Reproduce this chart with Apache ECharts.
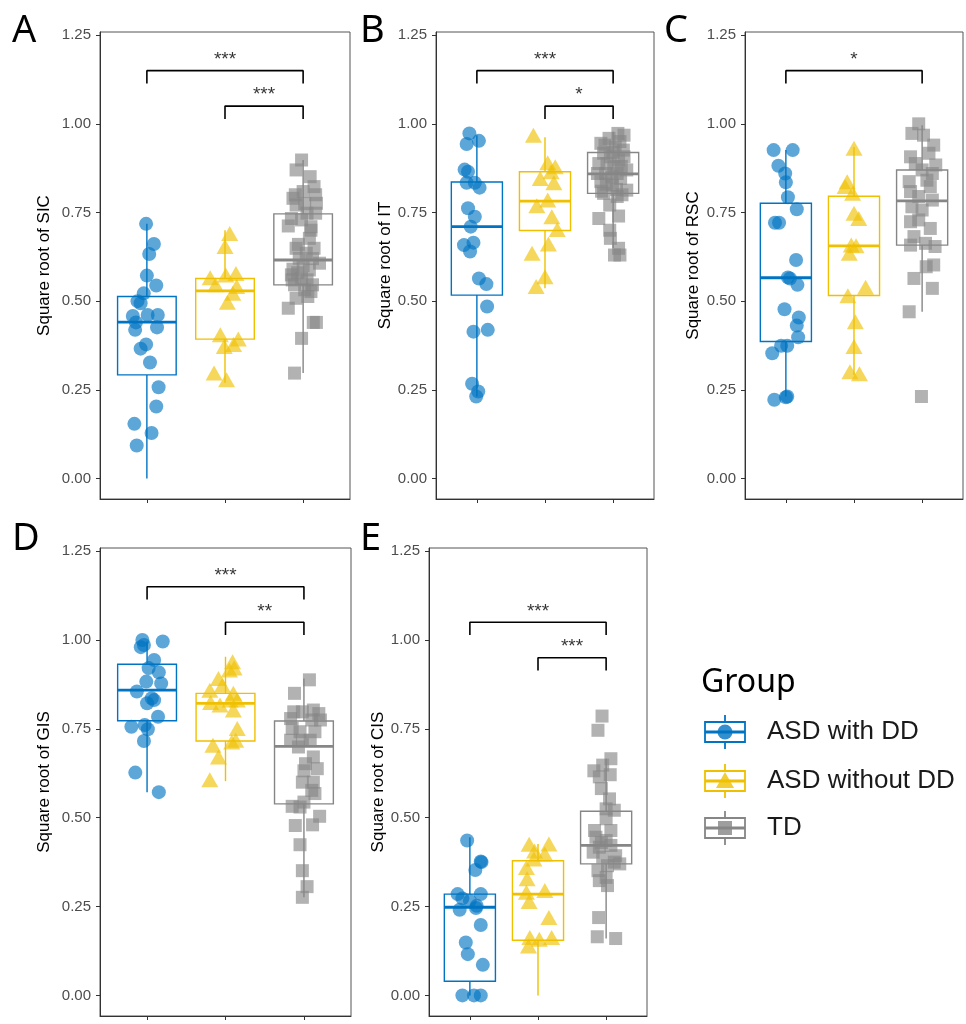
<!DOCTYPE html>
<html>
<head>
<meta charset="utf-8">
<title>Square root scores by group</title>
<script src="https://cdn.jsdelivr.net/npm/echarts@6/dist/echarts.min.js"></script>
<style>
  html, body { margin: 0; padding: 0; background: #fff; }
  #chart { width: 966px; height: 1024px; }
</style>
</head>
<body>
<div id="chart"></div>
<script>
const groups = ['ASD with DD', 'ASD without DD', 'TD'];
const colors = ['#0073C2', '#EFC000', '#868686'];
const pointColors = ['rgba(0,115,194,0.8)', 'rgba(239,192,0,0.8)', 'rgba(134,134,134,0.8)'];
const yTicks = [0, 0.25, 0.5, 0.75, 1, 1.25];

// jittered points: [x position, value]
const sicWithDD = [[0.99,0.718],[1.09,0.661],[1.03,0.633],[1.0,0.572],[1.12,0.544],[0.96,0.522],[0.88,0.50],[0.92,0.494],[0.82,0.458],[1.01,0.461],[1.14,0.461],[0.86,0.44],[0.85,0.419],[1.13,0.426],[0.99,0.378],[0.92,0.366],[1.04,0.327],[1.15,0.257],[1.12,0.203],[0.84,0.154],[1.06,0.128],[0.87,0.093]];
const sicWithoutDD = [[2.06,0.691],[2.0,0.654],[1.81,0.566],[2.14,0.578],[2.01,0.574],[1.88,0.546],[2.15,0.541],[2.10,0.522],[2.03,0.497],[1.94,0.405],[2.17,0.393],[2.11,0.378],[1.99,0.372],[1.86,0.297],[2.02,0.278]];
const sicTD = [[2.98,0.898],[2.91,0.870],[3.09,0.851],[3.14,0.823],[3.0,0.809],[2.87,0.790],[3.17,0.776],[2.91,0.771],[3.05,0.748],[3.16,0.748],[2.85,0.733],[2.98,0.729],[2.81,0.712],[3.10,0.70],[3.08,0.677],[2.91,0.649],[3.14,0.649],[3.04,0.635],[2.95,0.621],[3.21,0.607],[2.87,0.59],[3.08,0.588],[2.85,0.574],[2.98,0.564],[2.89,0.546],[3.12,0.546],[3.02,0.532],[3.10,0.527],[2.91,0.508],[3.06,0.513],[2.81,0.48],[3.17,0.44],[3.13,0.44],[2.98,0.395],[2.89,0.297],[3.12,0.62],[2.94,0.66],[3.0,0.60],[2.86,0.56],[3.05,0.56],[2.93,0.58],[3.10,0.71],[2.90,0.80],[3.02,0.775],[3.16,0.80]];

const itWithDD = [[0.89,0.973],[1.03,0.952],[0.85,0.943],[0.82,0.871],[0.87,0.865],[0.85,0.834],[0.97,0.834],[1.04,0.82],[0.87,0.762],[0.97,0.738],[0.91,0.71],[0.81,0.658],[0.95,0.665],[0.90,0.64],[1.03,0.564],[1.14,0.548],[1.15,0.485],[0.95,0.414],[1.16,0.419],[0.93,0.267],[1.02,0.245],[0.99,0.231]];
const itWithoutDD = [[1.83,0.968],[2.04,0.89],[2.15,0.879],[2.09,0.865],[1.93,0.846],[2.13,0.834],[2.04,0.785],[1.88,0.769],[2.10,0.738],[2.18,0.702],[2.05,0.661],[1.81,0.635],[2.0,0.569],[1.87,0.541]];
const itTD = [[3.07,0.973],[3.16,0.968],[2.94,0.959],[2.82,0.945],[3.03,0.935],[3.15,0.926],[2.86,0.917],[2.96,0.907],[3.08,0.898],[2.79,0.888],[3.01,0.879],[3.20,0.87],[2.89,0.86],[3.11,0.846],[2.82,0.837],[2.99,0.827],[3.20,0.813],[2.86,0.804],[3.06,0.795],[3.13,0.80],[2.95,0.771],[2.79,0.733],[3.08,0.74],[2.95,0.70],[2.96,0.677],[3.08,0.649],[3.02,0.63],[3.10,0.63],[2.77,0.86],[2.91,0.888],[3.06,0.86],[3.16,0.907],[2.83,0.81],[3.0,0.92],[2.90,0.83],[3.12,0.88],[2.98,0.85],[3.10,0.95],[2.88,0.94],[3.05,0.815]];

const rscWithDD = [[0.82,0.926],[1.10,0.926],[0.89,0.882],[0.99,0.86],[1.0,0.835],[1.03,0.793],[1.16,0.759],[0.84,0.721],[0.90,0.721],[1.15,0.616],[1.03,0.567],[1.06,0.564],[1.17,0.546],[0.98,0.477],[1.19,0.454],[1.16,0.431],[1.18,0.398],[0.93,0.374],[1.02,0.374],[0.80,0.353],[0.83,0.222],[1.0,0.229],[1.02,0.231]];
const rscWithoutDD = [[2.0,0.931],[1.90,0.837],[1.87,0.823],[1.98,0.804],[2.0,0.748],[2.07,0.733],[1.96,0.658],[2.03,0.656],[1.93,0.635],[2.17,0.539],[1.91,0.515],[2.02,0.442],[2.0,0.372],[1.94,0.301],[2.08,0.295]];
const rscTD = [[2.95,1.0],[2.85,0.973],[3.02,0.968],[3.17,0.94],[3.10,0.917],[2.83,0.907],[2.90,0.888],[3.20,0.884],[3.0,0.87],[3.15,0.86],[2.81,0.837],[3.07,0.841],[3.12,0.823],[2.83,0.809],[2.95,0.795],[3.15,0.785],[2.85,0.766],[3.0,0.757],[2.83,0.724],[2.95,0.729],[3.12,0.705],[2.88,0.682],[2.83,0.658],[3.05,0.663],[3.19,0.654],[3.06,0.597],[3.17,0.602],[2.88,0.564],[3.15,0.536],[2.81,0.47],[2.99,0.231]];

const gisWithDD = [[0.94,1.0],[1.20,0.996],[0.96,0.986],[0.92,0.98],[1.09,0.944],[1.15,0.909],[1.02,0.921],[0.99,0.883],[1.18,0.878],[0.87,0.855],[1.06,0.836],[1.0,0.822],[1.14,0.784],[0.97,0.761],[0.80,0.756],[1.01,0.749],[0.96,0.716],[0.85,0.627],[1.15,0.572],[1.09,0.831]];
const gisWithoutDD = [[2.09,0.939],[2.05,0.916],[2.11,0.921],[1.91,0.892],[1.96,0.873],[1.80,0.859],[2.10,0.85],[1.81,0.824],[1.93,0.817],[2.06,0.831],[2.15,0.831],[2.10,0.803],[2.15,0.751],[2.13,0.718],[1.84,0.704],[2.08,0.713],[1.91,0.671],[1.80,0.607]];
const gisTD = [[3.07,0.888],[2.88,0.85],[2.87,0.798],[2.98,0.798],[3.12,0.803],[3.19,0.793],[3.21,0.775],[2.83,0.779],[3.10,0.775],[2.85,0.751],[2.95,0.742],[3.14,0.742],[2.83,0.718],[2.98,0.718],[3.08,0.718],[2.93,0.699],[3.12,0.671],[3.02,0.652],[3.17,0.638],[3.0,0.632],[2.98,0.60],[3.12,0.60],[3.10,0.577],[3.14,0.568],[3.0,0.544],[2.85,0.532],[2.95,0.53],[3.20,0.504],[2.89,0.478],[3.11,0.48],[2.95,0.424],[2.98,0.351],[3.04,0.306],[2.98,0.276]];

const cisWithDD = [[0.96,0.436],[1.16,0.377],[1.17,0.375],[1.08,0.353],[0.82,0.285],[0.89,0.273],[1.16,0.285],[1.0,0.266],[1.10,0.252],[0.85,0.241],[1.09,0.246],[1.16,0.198],[0.94,0.149],[0.97,0.116],[1.19,0.086],[0.89,0],[1.06,0],[1.16,0]];
const cisWithoutDD = [[1.87,0.425],[2.16,0.426],[1.95,0.406],[2.10,0.398],[1.94,0.384],[1.83,0.36],[1.84,0.328],[1.83,0.29],[2.10,0.295],[1.87,0.264],[2.16,0.219],[1.88,0.163],[2.02,0.158],[2.20,0.163],[1.86,0.139]];
const cisTD = [[2.94,0.786],[2.88,0.746],[3.07,0.666],[2.95,0.648],[2.82,0.632],[3.06,0.621],[2.90,0.615],[2.93,0.582],[3.05,0.553],[3.0,0.525],[3.12,0.521],[3.0,0.497],[2.83,0.464],[3.07,0.464],[2.85,0.445],[3.0,0.436],[3.07,0.422],[2.90,0.417],[2.81,0.403],[3.14,0.393],[2.95,0.389],[3.12,0.375],[3.02,0.365],[2.88,0.351],[3.0,0.332],[2.90,0.323],[3.02,0.309],[2.89,0.219],[2.87,0.165],[3.14,0.16],[3.20,0.37],[2.93,0.43]];

// box stats per group: [lower whisker, Q1, median, Q3, upper whisker]
const sicBox = [[0.0,0.292,0.441,0.513,0.718],[0.27,0.393,0.529,0.564,0.70],[0.297,0.546,0.616,0.746,0.898]];
const itBox = [[0.231,0.517,0.71,0.836,0.968],[0.536,0.699,0.782,0.865,0.962],[0.649,0.804,0.859,0.919,0.978]];
const rscBox = [[0.231,0.386,0.566,0.776,0.926],[0.292,0.516,0.656,0.796,0.935],[0.47,0.658,0.783,0.87,0.996]];
const gisBox = [[0.572,0.773,0.859,0.932,0.996],[0.603,0.716,0.822,0.85,0.953],[0.276,0.539,0.701,0.772,0.892]];
const cisBox = [[0,0.04,0.248,0.285,0.445],[0,0.155,0.285,0.379,0.426],[0.16,0.37,0.422,0.518,0.666]];

// significance brackets: [from group, to group, height, label]
const sicSig = [[1,3,1.15,'***'],[2,3,1.05,'***']];
const itSig = [[1,3,1.15,'***'],[2,3,1.05,'*']];
const rscSig = [[1,3,1.15,'*']];
const gisSig = [[1,3,1.15,'***'],[2,3,1.05,'**']];
const cisSig = [[1,3,1.05,'***'],[2,3,0.95,'***']];

const panels = [
  {grid: {left: 100, top: 32, width: 250, height: 467}, name: 'Square root of SIC', gap: 47, letter: 'A', lx: 12, ly: 31, points: [sicWithDD, sicWithoutDD, sicTD], box: sicBox, sig: sicSig},
  {grid: {left: 436, top: 32, width: 218, height: 467}, name: 'Square root of IT', gap: 42, letter: 'B', lx: 360, ly: 31, points: [itWithDD, itWithoutDD, itTD], box: itBox, sig: itSig},
  {grid: {left: 745, top: 32, width: 218, height: 467}, name: 'Square root of RSC', gap: 43, letter: 'C', lx: 664, ly: 31, points: [rscWithDD, rscWithoutDD, rscTD], box: rscBox, sig: rscSig},
  {grid: {left: 100, top: 548, width: 251, height: 468}, name: 'Square root of GIS', gap: 47, letter: 'D', lx: 12, ly: 539, points: [gisWithDD, gisWithoutDD, gisTD], box: gisBox, sig: gisSig},
  {grid: {left: 429, top: 548, width: 218, height: 468}, name: 'Square root of CIS', gap: 42, letter: 'E', lx: 360, ly: 539, points: [cisWithDD, cisWithoutDD, cisTD], box: cisBox, sig: cisSig}
];

const symbols = ['circle', 'triangle', 'rect'];
const symbolSizes = [14, [17, 15], 13];
const boxHalf = 0.375;
const legDrop = 0.036;
const font = '"Liberation Sans", Arial, sans-serif';

function renderBox(params, api) {
  const x = api.value(0);
  const g = api.value(6);
  const lo = api.coord([x, api.value(1)]);
  const q1 = api.coord([x, api.value(2)]);
  const md = api.coord([x, api.value(3)]);
  const q3 = api.coord([x, api.value(4)]);
  const hi = api.coord([x, api.value(5)]);
  const x0 = api.coord([x - boxHalf, 0])[0];
  const x1 = api.coord([x + boxHalf, 0])[0];
  const st = {stroke: colors[g], lineWidth: 1.4, fill: 'none'};
  return {
    type: 'group',
    children: [
      {type: 'line', shape: {x1: lo[0], y1: lo[1], x2: q1[0], y2: q1[1]}, style: st},
      {type: 'line', shape: {x1: q3[0], y1: q3[1], x2: hi[0], y2: hi[1]}, style: st},
      {type: 'rect', shape: {x: x0, y: q3[1], width: x1 - x0, height: q1[1] - q3[1]}, style: st},
      {type: 'line', shape: {x1: x0, y1: md[1], x2: x1, y2: md[1]}, style: {stroke: colors[g], lineWidth: 2.8}}
    ]
  };
}

let series = [];
panels.forEach((p, i) => {
  series.push({
    type: 'custom',
    xAxisIndex: i, yAxisIndex: i,
    renderItem: renderBox,
    encode: {x: 0, y: [1, 2, 3, 4, 5]},
    data: p.box.map((b, g) => [g + 1].concat(b).concat([g])),
    z: 2, silent: true
  });
  p.points.forEach((pts, g) => {
    series.push({
      type: 'scatter',
      xAxisIndex: i, yAxisIndex: i,
      data: pts,
      symbol: symbols[g],
      symbolSize: symbolSizes[g],
      itemStyle: {color: pointColors[g]},
      z: 3, silent: true
    });
  });
  p.sig.forEach(s => {
    series.push({
      type: 'line',
      xAxisIndex: i, yAxisIndex: i,
      data: [[s[0], s[2] - legDrop], [s[0], s[2]], [s[1], s[2]], [s[1], s[2] - legDrop]],
      symbol: 'none',
      lineStyle: {color: '#000', width: 1.6},
      z: 4, silent: true
    });
    series.push({
      type: 'scatter',
      xAxisIndex: i, yAxisIndex: i,
      data: [[(s[0] + s[1]) / 2, s[2]]],
      symbolSize: 1,
      itemStyle: {color: 'rgba(0,0,0,0)'},
      label: {show: true, position: 'top', distance: 1, formatter: s[3], fontSize: 19, color: '#000', fontFamily: font},
      z: 4, silent: true
    });
  });
});

let graphic = panels.map(p => ({
  type: 'text',
  style: {x: p.lx, y: p.ly, text: p.letter, font: '38px "Noto Sans", sans-serif', fill: '#000', verticalAlign: 'middle'}
}));
graphic.push({
  type: 'text',
  style: {x: 701, y: 683, text: 'Group', font: '32px "Noto Sans", sans-serif', fill: '#000', verticalAlign: 'middle'}
});
const legendY = [732, 781, 828];
groups.forEach((name, g) => {
  const cy = legendY[g];
  const cx = 725;
  let marker;
  if (g === 0) marker = {type: 'circle', shape: {cx: cx, cy: cy, r: 7.5}, style: {fill: pointColors[g]}};
  else if (g === 1) marker = {type: 'polygon', shape: {points: [[cx, cy - 9], [cx - 9, cy + 7], [cx + 9, cy + 7]]}, style: {fill: pointColors[g]}};
  else marker = {type: 'rect', shape: {x: cx - 7, y: cy - 7, width: 14, height: 14}, style: {fill: pointColors[g]}};
  graphic.push({
    type: 'group',
    children: [
      {type: 'line', shape: {x1: cx, y1: cy - 17, x2: cx, y2: cy + 17}, style: {stroke: colors[g], lineWidth: 1.8}},
      {type: 'rect', shape: {x: cx - 20, y: cy - 10, width: 40, height: 20}, style: {fill: '#fff', stroke: colors[g], lineWidth: 1.8}},
      {type: 'line', shape: {x1: cx - 20, y1: cy, x2: cx + 20, y2: cy}, style: {stroke: colors[g], lineWidth: 3}},
      marker,
      {type: 'text', style: {x: 767, y: cy, text: name, font: '26px "Liberation Sans", Arial, sans-serif', fill: '#1a1a1a', verticalAlign: 'middle'}}
    ]
  });
});

const chart = echarts.init(document.getElementById('chart'), null, {renderer: 'canvas'});
chart.setOption({
  animation: false,
  backgroundColor: '#fff',
  grid: panels.map(p => Object.assign({show: true, borderColor: '#555', borderWidth: 1, backgroundColor: 'transparent'}, p.grid)),
  xAxis: panels.map((p, i) => ({
    type: 'value', gridIndex: i, min: 0.4, max: 3.6,
    axisLine: {show: true, onZero: false, lineStyle: {color: '#333'}},
    axisTick: {show: true, customValues: [1, 2, 3], length: 4, lineStyle: {color: '#333'}},
    axisLabel: {show: false},
    splitLine: {show: false}
  })),
  yAxis: panels.map((p, i) => ({
    type: 'value', gridIndex: i, min: -0.058, max: 1.259,
    name: p.name, nameLocation: 'middle', nameGap: p.gap,
    nameTextStyle: {fontSize: 17, color: '#000', fontFamily: font},
    axisLine: {show: true, onZero: false, lineStyle: {color: '#333'}},
    axisTick: {show: true, customValues: yTicks, length: 4, lineStyle: {color: '#333'}},
    axisLabel: {customValues: yTicks, formatter: v => v.toFixed(2), fontSize: 15, color: '#4d4d4d', margin: 9, fontFamily: font},
    splitLine: {show: false}
  })),
  series: series,
  graphic: graphic
});
</script>
</body>
</html>
